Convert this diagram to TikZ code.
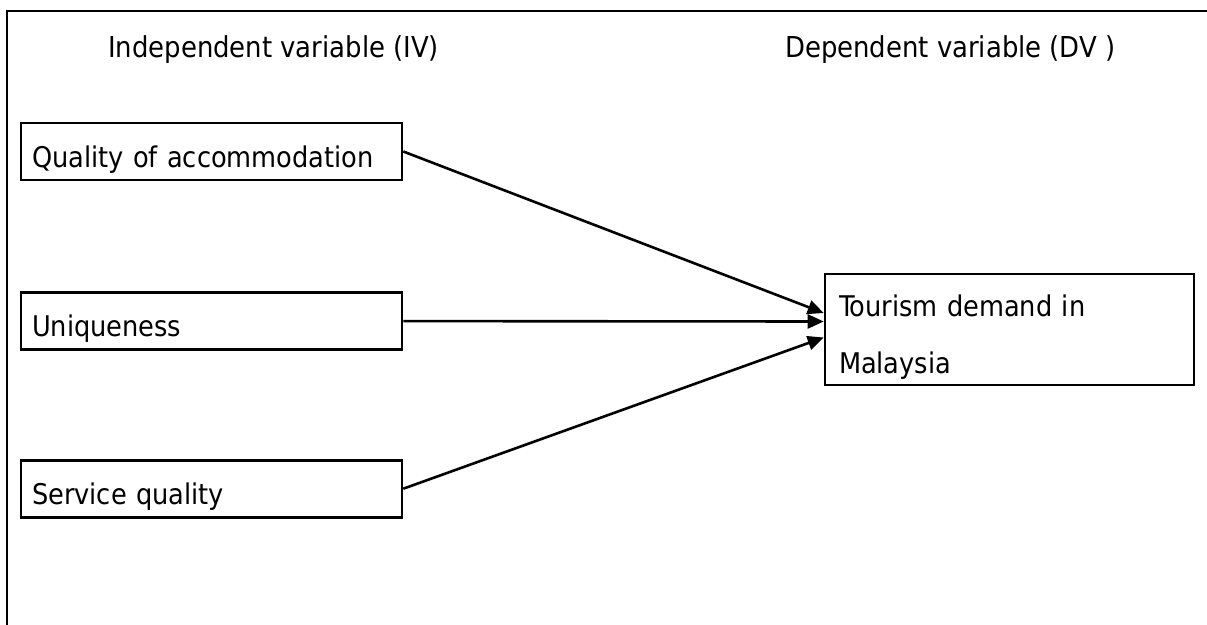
\documentclass[tikz,border=0pt]{standalone}
\usepackage{fontspec}
\setmainfont{DejaVu Sans Condensed}
\usetikzlibrary{arrows.meta,positioning}
\tikzset{
  ivbox/.style={draw,line width=2.6pt,align=left,inner xsep=11pt,inner ysep=0pt,
                text width=359pt,text height=44pt,text depth=13pt,
                font=\fontsize{28.5}{57}\selectfont},
  dvbox/.style={draw,line width=2.6pt,align=left,inner xsep=14pt,inner ysep=0pt,
                text width=341pt,text height=42pt,text depth=69pt,
                font=\fontsize{28.5}{57}\selectfont},
  head/.style={anchor=base west,inner sep=0pt,font=\fontsize{28.8}{33}\selectfont},
  fl/.style={-{Triangle[length=16pt,width=14pt]},line width=2.6pt},
  frame/.style={line width=2.6pt}
}
\begin{document}
\begin{tikzpicture}[x=1pt,y=-1pt]
  \useasboundingbox (0,0) rectangle (1207,624);
  \draw[frame] (7,660) |- (1240,11);
  \node[head] (ivh) at (108,57) {Independent variable (IV)};
  \node[head] (dvh) at (785,57) {Dependent variable (DV )};
  \node[ivbox] (qa) at (211.5,151.5) {Quality of accommodation};
  \node[ivbox,below=110pt of qa] (uq) {Uniqueness};
  \node[ivbox,below=108pt of uq] (sq) {Service quality};
  \node[dvbox] (dv) at (1009.5,329.5) {Tourism demand in\\Malaysia};
  \draw[fl] (qa.east) -- ([yshift=16.5pt]dv.west);
  \draw[fl] (uq.east) -- ([yshift=8pt]dv.west);
  \draw[fl] (sq.east) -- ([yshift=-8pt]dv.west);
\end{tikzpicture}
\end{document}
